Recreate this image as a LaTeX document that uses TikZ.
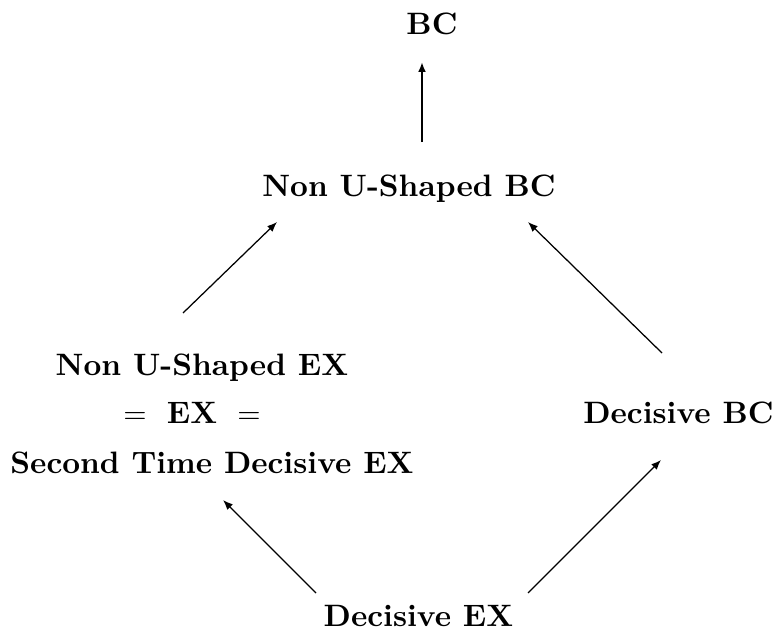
\documentclass[tikz,border=0pt]{standalone}
\usetikzlibrary{arrows.meta}
\begin{document}
\begin{tikzpicture}[x=0.3333pt,y=-0.3333pt,
  lbl/.style={anchor=base,inner sep=0pt,font=\fontsize{10.32pt}{12pt}\selectfont\bfseries},
  arr/.style={-{Latex[length=3.3pt,width=2.6pt]},line width=0.42pt}]
\useasboundingbox (0,0) rectangle (776,629);
\node[lbl] (bc) at (432,35) {BC};
\node[lbl] (nubc) at (409,196) {Non U-Shaped BC};
\node[lbl] (nuex) at (202,375) {Non U-Shaped EX};
\node[lbl] (ex) at (192,423) {$=$\hspace{6.7pt}EX\hspace{6.7pt}$=$};
\node[lbl] (stex) at (212,473) {Second Time Decisive EX};
\node[lbl] (dbc) at (678.5,423) {Decisive BC};
\node[lbl] (dex) at (418.5,626) {Decisive EX};
\coordinate (v0) at (422,142);
\coordinate (v1) at (422,62);
\coordinate (l0) at (183,313);
\coordinate (l1) at (277,222);
\coordinate (r0) at (662,353);
\coordinate (r1) at (528,222);
\coordinate (bl0) at (316,593);
\coordinate (bl1) at (223,500);
\coordinate (br0) at (528,593);
\coordinate (br1) at (661,460);
\draw[arr,line width=0.65pt] (v0) -- (v1);
\draw[arr] (l0) -- (l1);
\draw[arr] (r0) -- (r1);
\draw[arr] (bl0) -- (bl1);
\draw[arr] (br0) -- (br1);
\end{tikzpicture}
\end{document}
